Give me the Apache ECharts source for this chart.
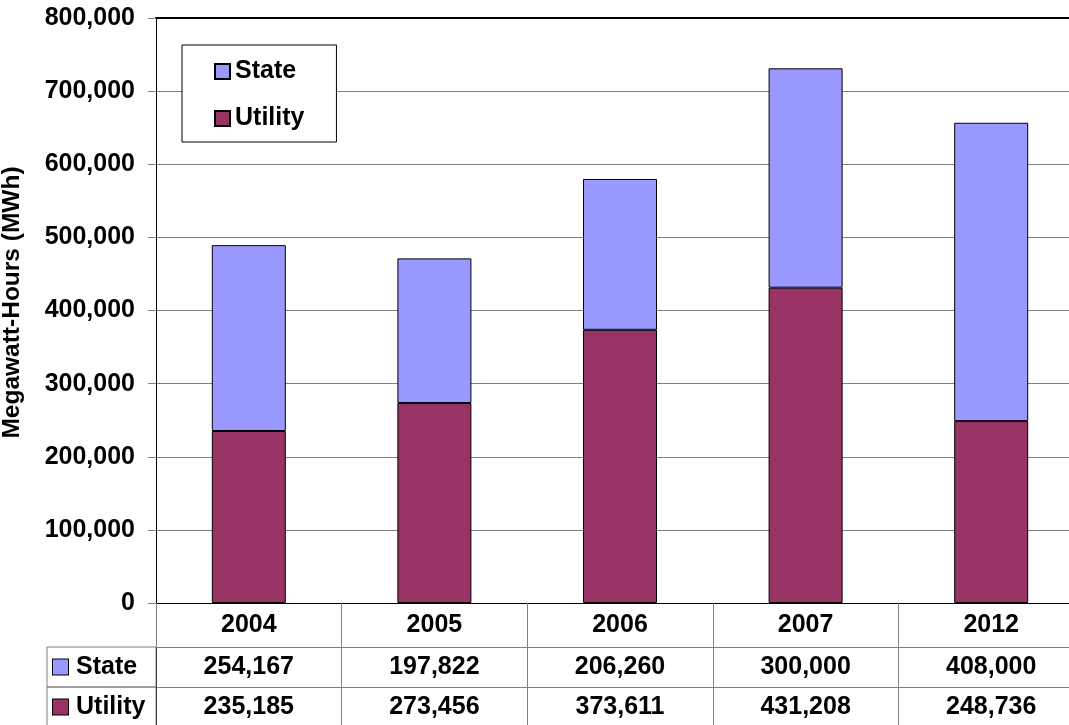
<!DOCTYPE html>
<html>
<head>
<meta charset="utf-8">
<title>Megawatt-Hours by Year</title>
<script src="https://cdn.jsdelivr.net/npm/echarts@6/dist/echarts.min.js"></script>
<style>
  html, body { margin: 0; padding: 0; background: #fff; }
  #chart { width: 1069px; height: 725px; }
</style>
</head>
<body>
<div id="chart"></div>
<script>
// Annual megawatt-hours, stacked by source, with a data table under the axis
const years = ['2004', '2005', '2006', '2007', '2012'];
const stateMWh = [254167, 197822, 206260, 300000, 408000];
const utilityMWh = [235185, 273456, 373611, 431208, 248736];
const tableRows = ['State', 'Utility'];
const yMax = 800000;
const yStep = 100000;

const STATE_COLOR = '#9999FF';
const UTILITY_COLOR = '#993366';
const GRID_GRAY = '#808080';
const FONT = "'Liberation Sans', Arial, Helvetica, sans-serif";

const fmt = v => Number(v).toLocaleString('en-US');

// one text cell per (year, row) in the table grid
const cellData = [];
years.forEach((y, i) => {
  cellData.push({ value: [i, 'State', stateMWh[i]] });
  cellData.push({ value: [i, 'Utility', utilityMWh[i]] });
});

const boldText = { fontFamily: FONT, fontWeight: 'bold', fontSize: 25, color: '#000' };

const chart = echarts.init(document.getElementById('chart'), null, { renderer: 'canvas' });

chart.setOption({
  animation: false,
  backgroundColor: '#fff',
  textStyle: { fontFamily: FONT },
  legend: {
    data: ['State', 'Utility'],
    orient: 'vertical',
    left: 182,
    top: 45,
    padding: [14, 32, 11, 32],
    itemGap: 22,
    itemWidth: 15,
    itemHeight: 15,
    icon: 'rect',
    backgroundColor: '#fff',
    borderColor: '#000',
    borderWidth: 1,
    textStyle: Object.assign({}, boldText)
  },
  grid: [
    { left: 156, top: 18, width: 928, height: 585, outerBoundsMode: 'none', containLabel: false },
    { left: 156, top: 647, width: 928, height: 80, outerBoundsMode: 'none', containLabel: false }
  ],
  xAxis: [
    {
      type: 'category',
      gridIndex: 0,
      data: years,
      axisLine: { lineStyle: { color: '#000', width: 1 } },
      axisTick: { show: true, interval: 0, length: 44, lineStyle: { color: GRID_GRAY } },
      axisLabel: Object.assign({ margin: 10, interval: 0 }, boldText),
      splitLine: { show: false }
    },
    {
      // heavy frame line along the top of the plot
      type: 'category',
      gridIndex: 0,
      position: 'top',
      data: years,
      axisLine: { lineStyle: { color: '#000', width: 2 } },
      axisTick: { show: false },
      axisLabel: { show: false }
    },
    {
      type: 'category',
      gridIndex: 1,
      position: 'top',
      data: years,
      axisLine: { lineStyle: { color: GRID_GRAY, width: 1 } },
      axisTick: { show: false },
      axisLabel: { show: false },
      splitLine: { show: true, interval: 0, lineStyle: { color: GRID_GRAY, width: 1 } }
    }
  ],
  yAxis: [
    {
      type: 'value',
      gridIndex: 0,
      min: 0,
      max: yMax,
      interval: yStep,
      name: 'Megawatt-Hours (MWh)',
      nameLocation: 'middle',
      nameGap: 131,
      nameRotate: 90,
      nameTextStyle: Object.assign({}, boldText, { fontSize: 24.5, padding: [0, 0, 0, 16] }),
      axisLine: { show: true, lineStyle: { color: '#000', width: 1 } },
      axisTick: { show: true, length: 8, lineStyle: { color: GRID_GRAY } },
      axisLabel: Object.assign({ margin: 21, formatter: v => fmt(v) }, boldText),
      splitLine: { show: true, lineStyle: { color: GRID_GRAY, width: 1 } }
    },
    {
      type: 'category',
      gridIndex: 1,
      data: tableRows,
      inverse: true,
      axisLine: { show: true, lineStyle: { color: '#000', width: 1 } },
      axisTick: { show: false },
      splitLine: { show: true, interval: 0, lineStyle: { color: GRID_GRAY, width: 1 } },
      axisLabel: {
        interval: 0,
        margin: 109,
        align: 'left',
        verticalAlign: 'middle',
        width: 103,
        padding: [0, 0, 0, 6],
        borderColor: GRID_GRAY,
        borderWidth: 1,
        formatter: v => '{' + (v === 'State' ? 'st' : 'ut') + '|}{t|' + v + '}',
        rich: {
          st: { width: 15, height: 15, lineHeight: 40, verticalAlign: 'middle', backgroundColor: STATE_COLOR, borderColor: '#000', borderWidth: 1 },
          ut: { width: 15, height: 15, lineHeight: 40, verticalAlign: 'middle', backgroundColor: UTILITY_COLOR, borderColor: '#000', borderWidth: 1 },
          t: Object.assign({ padding: [0, 0, 0, 8], lineHeight: 40, verticalAlign: 'middle' }, boldText)
        }
      }
    }
  ],
  series: [
    {
      name: 'Utility',
      type: 'bar',
      stack: 'total',
      xAxisIndex: 0,
      yAxisIndex: 0,
      barWidth: 74,
      data: utilityMWh,
      itemStyle: { color: UTILITY_COLOR, borderColor: '#000', borderWidth: 1 }
    },
    {
      name: 'State',
      type: 'bar',
      stack: 'total',
      xAxisIndex: 0,
      yAxisIndex: 0,
      barWidth: 74,
      data: stateMWh,
      itemStyle: { color: STATE_COLOR, borderColor: '#000', borderWidth: 1 }
    },
    {
      name: 'Table values',
      type: 'scatter',
      xAxisIndex: 2,
      yAxisIndex: 1,
      symbolSize: 0,
      silent: true,
      itemStyle: { color: '#000', opacity: 1 },
      data: cellData,
      label: Object.assign({
        show: true,
        position: 'inside',
        opacity: 1,
        formatter: p => fmt(p.value[2])
      }, boldText)
    }
  ]
});
</script>
</body>
</html>
